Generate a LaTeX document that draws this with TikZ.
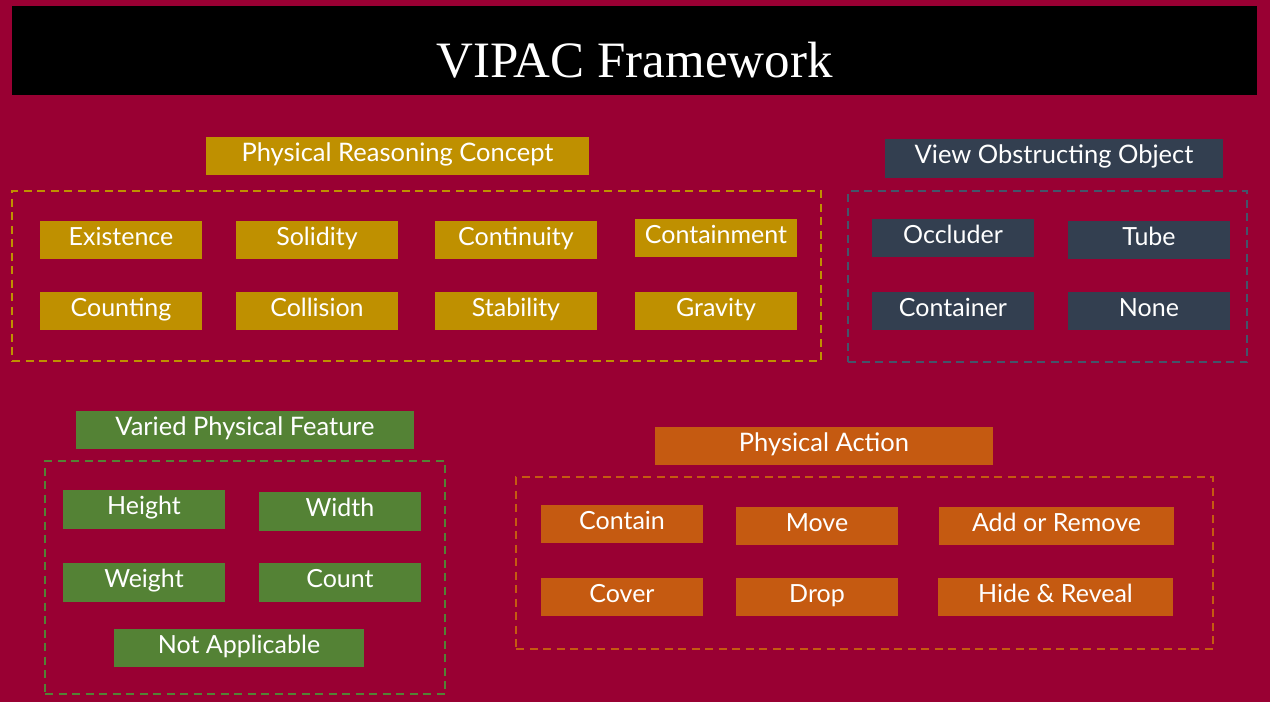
\documentclass[tikz,border=0pt]{standalone}
\usepackage{fontspec}
\newfontfamily\boxfont{Lato}
\newfontfamily\titlefont{Liberation Serif}
\definecolor{bgred}{RGB}{153,0,51}
\definecolor{goldc}{RGB}{191,144,0}
\definecolor{slatec}{RGB}{51,63,80}
\definecolor{slateline}{RGB}{68,84,106}
\definecolor{greenc}{RGB}{84,130,53}
\definecolor{orangec}{RGB}{197,90,17}
\tikzset{
  box/.style={rectangle, inner sep=0pt, text=white, minimum height=38pt,
    text height=17pt, text depth=7pt,
    font=\boxfont\fontsize{25}{25}\selectfont},
  head/.style={box, minimum width=338pt, font=\boxfont\fontsize{25.5}{26}\selectfont},
  item/.style={box, minimum width=162pt},
  wide/.style={box, minimum width=235pt},
  group/.style={rectangle, inner sep=0pt, draw, line width=1.3pt,
    dash pattern=on 8pt off 5.5pt}
}
\begin{document}
\begin{tikzpicture}[x=1pt,y=-1pt]
  \useasboundingbox (0,0) rectangle (1270,702);
  \fill[bgred] (0,0) rectangle (1270,702);

  % title bar
  \node[rectangle, fill=black, minimum width=1245pt, minimum height=89pt, inner sep=0pt,
        text height=53pt, text depth=0pt,
        text=white, font=\titlefont\fontsize{51}{51}\selectfont] (title) at (634.5,50.5)
        {VIPAC Framework};

  % physical reasoning concept
  \node[head, fill=goldc, minimum width=383pt] (prc) at (397.5,156) {Physical Reasoning Concept};
  \node[group, draw=goldc, minimum width=809pt, minimum height=170pt] (prcgroup) at (416.5,276) {};
  \node[item, fill=goldc] (existence) at (121,240) {Existence};
  \node[item, fill=goldc] (solidity) at (317,240) {Solidity};
  \node[item, fill=goldc] (continuity) at (516,240) {Continuity};
  \node[item, fill=goldc] (containment) at (716,238) {Containment};
  \node[item, fill=goldc] (counting) at (121,311) {Counting};
  \node[item, fill=goldc] (collision) at (317,311) {Collision};
  \node[item, fill=goldc] (stability) at (516,311) {Stability};
  \node[item, fill=goldc] (gravity) at (716,311) {Gravity};

  % view obstructing object
  \node[head, fill=slatec, minimum height=39pt] (voo) at (1054,158.5) {View Obstructing Object};
  \node[group, draw=slateline, minimum width=399pt, minimum height=171pt] (voogroup) at (1047.5,276.5) {};
  \node[item, fill=slatec] (occluder) at (953,238) {Occluder};
  \node[item, fill=slatec] (tube) at (1149,240) {Tube};
  \node[item, fill=slatec] (container) at (953,311) {Container};
  \node[item, fill=slatec] (none) at (1149,311) {None};

  % varied physical feature
  \node[head, fill=greenc] (vpf) at (245,430) {Varied Physical Feature};
  \node[group, draw=greenc, minimum width=400pt, minimum height=233pt] (vpfgroup) at (245,577.5) {};
  \node[item, fill=greenc, minimum height=39pt] (height) at (144,509.5) {Height};
  \node[item, fill=greenc, minimum height=39pt] (width) at (340,511.5) {Width};
  \node[item, fill=greenc, minimum height=39pt] (weight) at (144,582.5) {Weight};
  \node[item, fill=greenc, minimum height=39pt] (count) at (340,582.5) {Count};
  \node[box, fill=greenc, minimum width=250pt] (notapp) at (239,648) {Not Applicable};

  % physical action
  \node[head, fill=orangec] (pa) at (824,446) {Physical Action};
  \node[group, draw=orangec, minimum width=697pt, minimum height=172pt] (pagroup) at (864.5,563) {};
  \node[item, fill=orangec] (contain) at (622,524) {Contain};
  \node[item, fill=orangec] (move) at (817,526) {Move};
  \node[wide, fill=orangec] (addrem) at (1056.5,526) {Add or Remove};
  \node[item, fill=orangec] (cover) at (622,597) {Cover};
  \node[item, fill=orangec] (drop) at (817,597) {Drop};
  \node[wide, fill=orangec] (hide) at (1055.5,597) {Hide \& Reveal};
\end{tikzpicture}
\end{document}
